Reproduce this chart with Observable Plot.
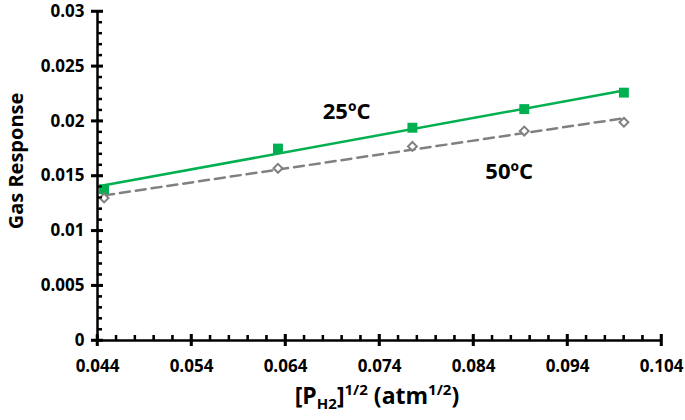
<!DOCTYPE html>
<html><head><meta charset="utf-8">
<script src="https://cdn.jsdelivr.net/npm/d3@7"></script>
<script src="https://cdn.jsdelivr.net/npm/@observablehq/plot@0.6"></script>
<style>html,body{margin:0;padding:0;background:#fff;}</style>
</head><body><div id="chart"></div>
<script>
const pressureRoot = [0.0447, 0.0632, 0.0775, 0.0894, 0.1000];
const response25 = [0.0138, 0.0175, 0.0194, 0.0211, 0.0226];
const response50 = [0.0130, 0.0157, 0.0177, 0.0191, 0.0199];
const xTicks = [0.044, 0.054, 0.064, 0.074, 0.084, 0.094, 0.104];
const yTicks = [0, 0.005, 0.01, 0.015, 0.02, 0.025, 0.03];
const seriesLabels = ["25ºC", "50ºC"];
const labelX = [0.0705, 0.0878];
const labelY = [0.0208, 0.0154];

const d25 = pressureRoot.map((x, i) => ({x, y: response25[i]}));
const d50 = pressureRoot.map((x, i) => ({x, y: response50[i]}));
const labels = seriesLabels.map((t, i) => ({t, x: labelX[i], y: labelY[i]}));

function minors(ticks) {
  const out = [];
  for (let i = 0; i < ticks.length - 1; i++) {
    const s = (ticks[i + 1] - ticks[i]) / 5;
    for (let k = 1; k < 5; k++) out.push(ticks[i] + k * s);
  }
  return out;
}
const xMinor = minors(xTicks), yMinor = minors(yTicks);

const chart = Plot.plot({
  width: 685, height: 420,
  marginLeft: 97, marginRight: 24, marginTop: 11, marginBottom: 80,
  style: {fontFamily: "Open Sans", fontSize: "17px", background: "#fff", overflow: "visible"},
  x: {domain: [0.044, 0.104], label: null},
  y: {domain: [0, 0.03], label: null},
  marks: [
    Plot.ruleX(xTicks, {stroke: "black", strokeWidth: 2.5, y1: () => 0, y2: () => 0, insetTop: -6, insetBottom: -6}),
    Plot.ruleX(xMinor, {stroke: "black", strokeWidth: 2, y1: () => 0, y2: () => 0, insetTop: -5}),
    Plot.ruleY(yTicks, {y: d => d, x1: () => 0.044, x2: () => 0.044, insetLeft: -6, insetRight: -6, stroke: "black", strokeWidth: 2.5}),
    Plot.ruleY(yMinor, {y: d => d, x1: () => 0.044, x2: () => 0.044, insetRight: -5, stroke: "black", strokeWidth: 2}),
    Plot.axisX({ticks: xTicks, tickSize: 0, tickPadding: 19, fontSize: 17, fontWeight: 700, fill: "black", tickFormat: d => d.toFixed(3)}),
    Plot.axisY({ticks: yTicks, tickSize: 0, tickPadding: 13, fontSize: 17, fontWeight: 700, fill: "black", tickFormat: d => String(+d.toFixed(3))}),
    Plot.linearRegressionY(d50, {x: "x", y: "y", ci: 0, stroke: "#808080", strokeWidth: 2.5, strokeDasharray: "10,6"}),
    Plot.linearRegressionY(d25, {x: "x", y: "y", ci: 0, stroke: "#00B050", strokeWidth: 2.5}),
    Plot.dot(d25, {x: "x", y: "y", symbol: "square", r: 5.6, fill: "#00B050"}),
    Plot.dot(d50, {x: "x", y: "y", symbol: "diamond2", r: 4, fill: "white", stroke: "#808080", strokeWidth: 2}),
    Plot.ruleY([0], {stroke: "black", strokeWidth: 2.5}),
    Plot.ruleX([0.044], {stroke: "black", strokeWidth: 2.5}),
    Plot.text(labels, {x: "x", y: "y", text: "t", fontSize: 22, fontWeight: 700, fill: "black"})
  ]
});

const svg = d3.select(chart);
const sx = chart.scale("x"), sy = chart.scale("y");
const gx = svg.append("g").attr("stroke", "black");
const ax0 = sx.apply(xTicks[0]), ay0 = sy.apply(yTicks[0]);
xTicks.forEach(t => gx.append("line").attr("x1", sx.apply(t)).attr("x2", sx.apply(t)).attr("y1", ay0 - 6).attr("y2", ay0 + 6).attr("stroke-width", 2.5));
xMinor.forEach(t => gx.append("line").attr("x1", sx.apply(t)).attr("x2", sx.apply(t)).attr("y1", ay0 - 5).attr("y2", ay0).attr("stroke-width", 2));
yTicks.forEach(t => gx.append("line").attr("y1", sy.apply(t)).attr("y2", sy.apply(t)).attr("x1", ax0 - 6).attr("x2", ax0 + 6).attr("stroke-width", 2.5));
yMinor.forEach(t => gx.append("line").attr("y1", sy.apply(t)).attr("y2", sy.apply(t)).attr("x1", ax0).attr("x2", ax0 + 5).attr("stroke-width", 2));

svg.append("text")
  .attr("transform", "translate(23,161) rotate(-90)")
  .attr("text-anchor", "middle")
  .attr("font-size", 20).attr("font-weight", 700).attr("fill", "#000")
  .text("Gas Response");
const xt = svg.append("text")
  .attr("x", 377).attr("y", 404)
  .attr("text-anchor", "middle")
  .attr("font-size", 23).attr("font-weight", 700).attr("fill", "#000");
xt.append("tspan").text("[P");
xt.append("tspan").attr("font-size", 15).attr("dy", 5).text("H2");
xt.append("tspan").attr("dy", -5).text("]");
xt.append("tspan").attr("font-size", 15).attr("dy", -9).text("1/2");
xt.append("tspan").attr("dy", 9).text(" (atm");
xt.append("tspan").attr("font-size", 15).attr("dy", -9).text("1/2");
xt.append("tspan").attr("dy", 9).text(")");

document.getElementById("chart").appendChild(chart);
</script></body></html>
